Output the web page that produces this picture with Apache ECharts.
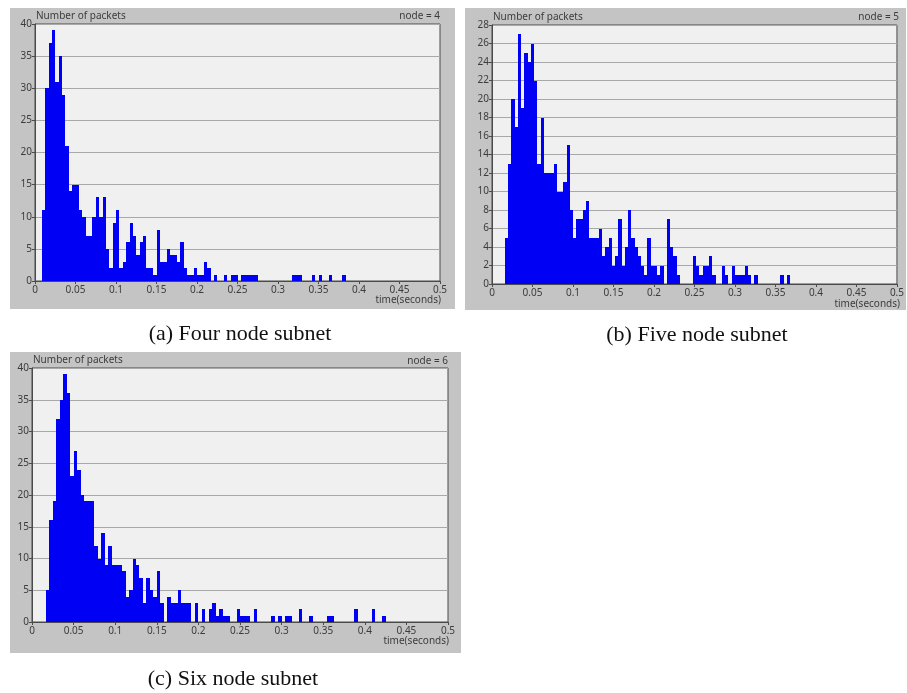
<!DOCTYPE html>
<html>
<head>
<meta charset="utf-8">
<script src="https://cdn.jsdelivr.net/npm/echarts@6/dist/echarts.min.js"></script>
<style>
  html, body { margin: 0; padding: 0; background: #ffffff; }
  #chart { width: 907px; height: 693px; }
</style>
</head>
<body>
<div id="chart"></div>
<script>
// ---- Data (packet counts per time bin) ----
// Panel (a): node = 4, bin width 1/240 s, index = bin number from t = 0
var binWidthA = 1 / 240;
var countsA = [0,0,11,30,37,39,31,35,29,21,14,15,15,11,10,7,7,10,13,10,
               13,5,2,9,11,2,3,6,9,7,4,6,7,2,2,1,8,3,3,5,
               4,4,3,6,2,1,1,2,1,1,3,2,0,1,0,0,1,0,1,1,
               0,1,1,1,1,1,0,0,0,0,0,0,0,0,0,0,1,1,1,0,
               0,0,1,0,1,0,0,1,0,0,0,1];
// Panel (b): node = 5, bin width 0.004 s
var binWidthB = 0.004;
var countsB = [0,0,0,0,5,13,20,17,27,19,25,24,26,22,13,18,12,12,12,13,
               10,10,11,15,8,5,7,7,8,9,5,5,5,6,3,4,5,2,3,7,
               2,4,8,5,4,3,2,1,5,2,2,1,2,0,7,4,3,1,0,0,
               0,0,3,2,1,2,2,3,1,0,0,2,1,0,2,1,1,1,2,1,
               0,1,0,0,0,0,0,0,0,1,0,1];
// Panel (c): node = 6, bin width 1/240 s
var binWidthC = 1 / 240;
var countsC = [0,0,0,0,5,16,19,32,35,39,36,23,27,24,20,19,19,19,12,10,
               14,9,12,9,9,9,8,4,5,10,9,7,3,7,5,4,8,3,0,4,
               3,3,5,3,3,3,0,3,0,2,0,2,3,1,2,1,1,0,0,2,
               1,1,1,0,2,0,0,0,0,1,0,1,0,1,1,0,0,2,0,0,
               1,0,0,0,0,1,1,0,0,0,0,0,0,2,0,0,0,0,2,0,
               0,1];
var xTicks = [0,0.05,0.1,0.15,0.2,0.25,0.3,0.35,0.4,0.45,0.5];
var yMaxA = 40, yStepA = 5;
var yMaxB = 28, yStepB = 2;
var yMaxC = 40, yStepC = 5;
var nodeLabels = ['node = 4', 'node = 5', 'node = 6'];
var captions = ['(a) Four node subnet', '(b) Five node subnet', '(c) Six node subnet'];
var yTitle = 'Number of packets';
var xTitle = 'time(seconds)';

// ---- Chart ----
var TXT = '#3c3c3c';
var FONT = 'Noto Sans';
function toData(counts, w) {
  var out = [];
  counts.forEach(function (c, i) { if (c > 0) out.push([i * w, c, w]); });
  return out;
}
function renderBin(params, api) {
  var x0 = api.value(0), c = api.value(1), w = api.value(2);
  var p0 = api.coord([x0, c]);
  var p1 = api.coord([x0 + w, 0]);
  var xa = Math.round(p0[0]), xb = Math.round(p1[0]);
  var ya = Math.round(p0[1]), yb = Math.round(p1[1]);
  return {
    type: 'rect',
    shape: { x: xa, y: ya, width: Math.max(1, xb - xa), height: yb - ya },
    style: { fill: '#0000f5' }
  };
}
function xAxisCfg(gi) {
  return {
    gridIndex: gi, type: 'value', min: 0, max: 0.5, interval: 0.05,
    axisLine: { show: true, lineStyle: { color: '#4a4a4a', width: 1 } },
    axisTick: { show: true, length: 3, lineStyle: { color: '#4a4a4a' } },
    axisLabel: { color: TXT, fontSize: 10, fontFamily: FONT, margin: 4,
      formatter: function (v) { return String(Math.round(v * 100) / 100); } },
    splitLine: { show: false }
  };
}
function yAxisCfg(gi, max, step) {
  return {
    gridIndex: gi, type: 'value', min: 0, max: max, interval: step,
    axisLine: { show: true, lineStyle: { color: '#4a4a4a', width: 1 } },
    axisTick: { show: true, length: 3, lineStyle: { color: '#4a4a4a' } },
    axisLabel: { color: TXT, fontSize: 10, fontFamily: FONT, margin: 3 },
    splitLine: { show: true, lineStyle: { color: '#a8a8a8', width: 1.2 } }
  };
}
function txt(x, y, s, align, size, family, color) {
  return { type: 'text', x: x, y: y, z: 10,
    style: { text: s, align: align, verticalAlign: 'middle', fontSize: size,
             fontFamily: family, fill: color } };
}
function frame(x, y, w, h) {
  return { type: 'rect', z: -100, shape: { x: x, y: y, width: w, height: h },
           style: { fill: '#c4c4c4' } };
}

var chart = echarts.init(document.getElementById('chart'), null, { renderer: 'canvas' });
var gridStyle = { show: true, backgroundColor: '#f0f0f0', borderColor: '#4a4a4a', borderWidth: 1, containLabel: false };
chart.setOption({
  backgroundColor: '#ffffff',
  animation: false,
  grid: [
    Object.assign({ left: 35, top: 24, width: 405, height: 257 }, gridStyle),
    Object.assign({ left: 492, top: 25, width: 407, height: 259 }, gridStyle),
    Object.assign({ left: 32, top: 368, width: 416, height: 254 }, gridStyle)
  ],
  xAxis: [xAxisCfg(0), xAxisCfg(1), xAxisCfg(2)],
  yAxis: [yAxisCfg(0, yMaxA, yStepA), yAxisCfg(1, yMaxB, yStepB), yAxisCfg(2, yMaxC, yStepC)],
  series: [
    { type: 'custom', xAxisIndex: 0, yAxisIndex: 0, renderItem: renderBin,
      encode: { x: 0, y: 1 }, data: toData(countsA, binWidthA), clip: true },
    { type: 'custom', xAxisIndex: 1, yAxisIndex: 1, renderItem: renderBin,
      encode: { x: 0, y: 1 }, data: toData(countsB, binWidthB), clip: true },
    { type: 'custom', xAxisIndex: 2, yAxisIndex: 2, renderItem: renderBin,
      encode: { x: 0, y: 1 }, data: toData(countsC, binWidthC), clip: true }
  ],
  graphic: { elements: [
    frame(10, 8, 445, 301),
    frame(465, 8, 441, 302),
    frame(10, 352, 451, 301),
    txt(36, 16, yTitle, 'left', 10, FONT, TXT),
    txt(493, 17, yTitle, 'left', 10, FONT, TXT),
    txt(33, 360, yTitle, 'left', 10, FONT, TXT),
    txt(440, 16, nodeLabels[0], 'right', 10, FONT, TXT),
    txt(899, 17, nodeLabels[1], 'right', 10, FONT, TXT),
    txt(448, 361, nodeLabels[2], 'right', 10, FONT, TXT),
    txt(441, 300, xTitle, 'right', 10, FONT, TXT),
    txt(900, 304, xTitle, 'right', 10, FONT, TXT),
    txt(449, 641, xTitle, 'right', 10, FONT, TXT),
    txt(240, 334, captions[0], 'center', 22, 'Liberation Serif', '#111111'),
    txt(697, 335, captions[1], 'center', 22, 'Liberation Serif', '#111111'),
    txt(233, 679, captions[2], 'center', 22, 'Liberation Serif', '#111111')
  ] }
});
</script>
</body>
</html>
